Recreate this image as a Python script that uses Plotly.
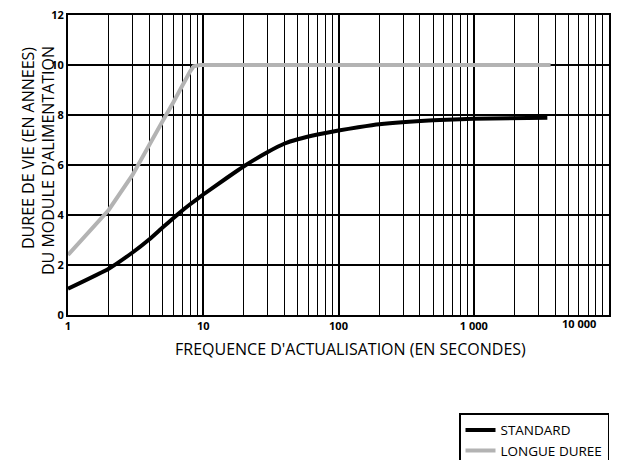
import plotly.graph_objects as go

# Data
std_x = [1, 2, 3, 4, 5, 6, 7, 8, 10, 15, 20, 30, 40, 50, 70, 100, 140, 200, 500, 1000, 3500]
std_y = [1.05, 1.85, 2.5, 3.03, 3.5, 3.87, 4.18, 4.43, 4.82, 5.49, 5.95, 6.52, 6.86, 7.03, 7.22, 7.38,
         7.51, 7.63, 7.79, 7.85, 7.89]
long_x = [1, 2, 3, 4, 5, 6, 7, 8, 8.5, 9.5, 100, 1000, 3700]
long_y = [2.4, 4.2, 5.6, 6.85, 7.75, 8.5, 9.2, 9.75, 9.95, 10, 10, 10, 10]

x_tickvals = [1, 10, 100, 1000]
x_ticktext = ["1", "10", "100", "1 000"]
y_tickvals = [0, 2, 4, 6, 8, 10, 12]

minor_vals = [m * d for d in (1, 10, 100, 1000) for m in range(2, 10)]

FONT = "Open Sans"

fig = go.Figure()
fig.add_trace(go.Scatter(x=std_x, y=std_y, mode="lines", name="STANDARD",
                         line=dict(color="black", width=4, shape="spline", smoothing=0.4)))
fig.add_trace(go.Scatter(x=long_x, y=long_y, mode="lines", name="LONGUE DUREE",
                         line=dict(color="#b3b3b3", width=4)))

# page body has an 8px default margin, so the figure is 614x452 drawn at (8, 8)
fig.update_layout(
    width=614, height=452,
    margin=dict(l=60, r=13, t=7, b=145, autoexpand=False),
    plot_bgcolor="white", paper_bgcolor="white",
    font=dict(family=FONT, color="black", size=12),
    showlegend=True,
    legend=dict(x=1.0, xanchor="right", y=-0.327, yanchor="top",
                bordercolor="black", borderwidth=1.5, bgcolor="white",
                font=dict(size=13.5, family=FONT), tracegroupgap=0,
                itemwidth=30, entrywidth=160),
    xaxis=dict(type="log", range=[0, 4], tickmode="array",
               tickvals=x_tickvals, ticktext=x_ticktext,
               showgrid=True, gridcolor="black", gridwidth=2,
               minor=dict(tickmode="array", tickvals=minor_vals, showgrid=True,
                          gridcolor="black", gridwidth=1, ticks=""),
               showline=True, linecolor="black", linewidth=2, mirror=True,
               ticks="", tickfont=dict(size=11, weight="bold"), zeroline=False,
               ticklabeloverflow="allow"),
    yaxis=dict(range=[0, 12], tickmode="array", tickvals=y_tickvals,
               showgrid=True, gridcolor="black", gridwidth=1.5,
               showline=True, linecolor="black", linewidth=2, mirror=True,
               ticks="", tickfont=dict(size=11, weight="bold"), zeroline=False,
               ticklabeloverflow="allow"),
)

fig.add_annotation(text="10 000", x=(598 - 68) / 541, y=(315 - 333) / 300,
                   xref="paper", yref="paper", showarrow=False,
                   font=dict(size=11, weight="bold"))
fig.add_annotation(text="FREQUENCE D'ACTUALISATION (EN SECONDES)",
                   x=(350 - 68) / 541, y=(315 - 362) / 300,
                   xref="paper", yref="paper", showarrow=False, font=dict(size=16))
fig.add_annotation(text="DUREE DE VIE (EN ANNEES)", textangle=-90,
                   x=(15 - 68) / 541, y=(315 - 148) / 300,
                   xref="paper", yref="paper", showarrow=False, font=dict(size=16))
fig.add_annotation(text="DU MODULE D'ALIMENTATION", textangle=-90,
                   x=(35 - 68) / 541, y=(315 - 161) / 300,
                   xref="paper", yref="paper", showarrow=False, font=dict(size=16))

fig.write_html("out.html")
